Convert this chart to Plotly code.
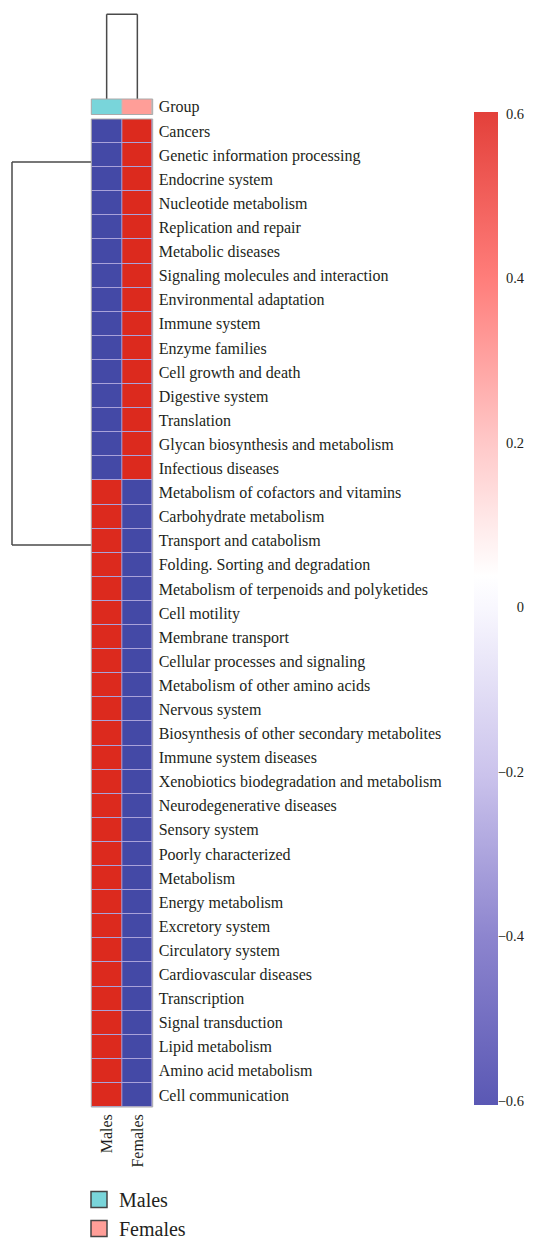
import plotly.graph_objects as go

# page body has an 8px default margin; the figure is offset by it
PAGE_W, PAGE_H = 533, 1239
OFF = 8
FW, FH = PAGE_W - 2 * OFF, PAGE_H - OFF

pathways = [
    "Cancers", "Genetic information processing", "Endocrine system", "Nucleotide metabolism",
    "Replication and repair", "Metabolic diseases", "Signaling molecules and interaction",
    "Environmental adaptation", "Immune system", "Enzyme families", "Cell growth and death",
    "Digestive system", "Translation", "Glycan biosynthesis and metabolism", "Infectious diseases",
    "Metabolism of cofactors and vitamins", "Carbohydrate metabolism", "Transport and catabolism",
    "Folding. Sorting and degradation", "Metabolism of terpenoids and polyketides", "Cell motility",
    "Membrane transport", "Cellular processes and signaling", "Metabolism of other amino acids",
    "Nervous system", "Biosynthesis of other secondary metabolites", "Immune system diseases",
    "Xenobiotics biodegradation and metabolism", "Neurodegenerative diseases", "Sensory system",
    "Poorly characterized", "Metabolism", "Energy metabolism", "Excretory system",
    "Circulatory system", "Cardiovascular diseases", "Transcription", "Signal transduction",
    "Lipid metabolism", "Amino acid metabolism", "Cell communication",
]

groups = ["Males", "Females"]

males = [-0.71, -0.71, -0.71, -0.71, -0.71, -0.71, -0.71, -0.71, -0.71, -0.71,
         -0.71, -0.71, -0.71, -0.71, -0.71,
         0.71, 0.71, 0.71, 0.71, 0.71, 0.71, 0.71, 0.71, 0.71, 0.71,
         0.71, 0.71, 0.71, 0.71, 0.71, 0.71, 0.71, 0.71, 0.71, 0.71,
         0.71, 0.71, 0.71, 0.71, 0.71, 0.71]
females = [0.71, 0.71, 0.71, 0.71, 0.71, 0.71, 0.71, 0.71, 0.71, 0.71,
           0.71, 0.71, 0.71, 0.71, 0.71,
           -0.71, -0.71, -0.71, -0.71, -0.71, -0.71, -0.71, -0.71, -0.71, -0.71,
           -0.71, -0.71, -0.71, -0.71, -0.71, -0.71, -0.71, -0.71, -0.71, -0.71,
           -0.71, -0.71, -0.71, -0.71, -0.71, -0.71]

group_colors = ["#79D5DA", "#FF9E98"]
colorbar_tickvals = [-0.6, -0.4, -0.2, 0, 0.2, 0.4, 0.6]
colorbar_ticktext = ["\u22120.6", "\u22120.4", "\u22120.2", "0", "0.2", "0.4", "0.6"]

# dendrogram join heights (in row units)
row_dendro_top = 1.28
row_dendro_bottom = 17.18

n = len(pathways)
rows = list(range(n))
z = [[males[i], females[i]] for i in range(n)]


def px_x(p):
    return (p - OFF) / FW


def px_y(p):
    return 1 - (p - OFF) / FH


FONT = "Liberation Serif"
TXT = "#231F20"
heat_cells = [[0, "#4449A6"], [0.5, "#4449A6"], [0.5, "#DC2A1E"], [1, "#DC2A1E"]]
bar_scale = [[0, "#5A58B4"], [0.167, "#8C84CE"], [0.333, "#CBC3EC"], [0.5, "#F8F7FE"],
             [0.533, "#FFFFFF"], [0.667, "#FFC8C8"], [0.833, "#FF7D7A"], [1, "#E3403A"]]

fig = go.Figure()
fig.add_trace(go.Heatmap(
    z=z, x=[0, 1], y=rows, zmin=-0.71, zmax=0.71, colorscale=heat_cells,
    showscale=False, xgap=1, ygap=1, hoverinfo="skip", xaxis="x", yaxis="y",
))
fig.add_trace(go.Heatmap(
    z=[[0, 1]], x=[0, 1], y=[0], zmin=0, zmax=1,
    colorscale=[[0, group_colors[0]], [0.5, group_colors[0]], [0.5, group_colors[1]], [1, group_colors[1]]],
    showscale=False, xgap=1, hoverinfo="skip", xaxis="x", yaxis="y2",
))
# colorbar carrier (its labels come from yaxis3, right-aligned like the reference)
fig.add_trace(go.Scatter(
    x=[None], y=[None], mode="markers", showlegend=False, hoverinfo="skip",
    marker=dict(color=[-0.6, 0.6], cmin=-0.6, cmax=0.6, colorscale=bar_scale, showscale=True,
                colorbar=dict(
                    x=px_x(474), xanchor="left", y=px_y(1105), yanchor="bottom",
                    len=(1105 - 112) / FH, lenmode="fraction", thickness=24,
                    xpad=0, ypad=0,
                    outlinewidth=0, ticks="", showticklabels=False,
                )),
    xaxis="x2", yaxis="y3",
))
# legend entries
for g, c in zip(groups, group_colors):
    fig.add_trace(go.Scatter(
        x=[None], y=[None], mode="markers", name=g,
        marker=dict(symbol="square", size=18, color=c, line=dict(color="#444444", width=1.5)),
        xaxis="x", yaxis="y",
    ))

fig.update_layout(
    width=FW, height=FH, margin=dict(l=0, r=0, t=0, b=0, autoexpand=False),
    font=dict(family=FONT, color=TXT),
    paper_bgcolor="white", plot_bgcolor="rgba(0,0,0,0)",
    xaxis=dict(domain=[px_x(91.3), px_x(152.7)], range=[-0.5, 1.5], tickvals=[0, 1], ticktext=groups,
               tickangle=-90, showgrid=False, zeroline=False, ticks="", showline=False,
               ticklabelstandoff=3,
               tickfont=dict(family=FONT, size=16, color=TXT), anchor="y"),
    yaxis=dict(domain=[px_y(1107), px_y(119)], range=[n - 0.5, -0.5], tickvals=rows, ticktext=pathways,
               side="right", showgrid=False, zeroline=False, ticks="", ticklabelstandoff=5,
               tickfont=dict(family=FONT, size=16, color=TXT), anchor="x"),
    yaxis2=dict(domain=[px_y(114.5), px_y(99)], range=[-0.5, 0.5], tickvals=[0], ticktext=["Group"],
                side="right", showgrid=False, zeroline=False, ticks="", ticklabelstandoff=5,
                tickfont=dict(family=FONT, size=16, color=TXT), anchor="x"),
    xaxis2=dict(domain=[px_x(474), px_x(498)], visible=False, anchor="y3", range=[0, 1]),
    yaxis3=dict(domain=[px_y(1100.5), px_y(113.5)], range=[-0.6, 0.6],
                tickvals=colorbar_tickvals, ticktext=colorbar_ticktext,
                anchor="free", position=px_x(524), side="left",
                showgrid=False, zeroline=False, showline=False, ticks="", ticklabelstandoff=0,
                tickfont=dict(family=FONT, size=14.5, color=TXT)),
    legend=dict(x=px_x(79), y=px_y(1180), xanchor="left", yanchor="top",
                font=dict(family=FONT, size=20, color=TXT), tracegroupgap=0,
                itemsizing="trace", bgcolor="rgba(0,0,0,0)"),
    showlegend=True,
)

line = dict(color="#4A4A4A", width=1.5)
shapes = [
    # lavender separators between cells
    dict(type="rect", xref="x domain", yref="y domain", x0=0, x1=1, y0=0, y1=1,
         fillcolor="#A9A2DA", line=dict(width=0), layer="below"),
    dict(type="rect", xref="x domain", yref="y2 domain", x0=0, x1=1, y0=0, y1=1,
         fillcolor="#BBBBBB", line=dict(width=0), layer="below"),
    # top dendrogram
    dict(type="line", xref="x", yref="paper", x0=0, x1=0, y0=px_y(99), y1=px_y(14.3), line=line),
    dict(type="line", xref="x", yref="paper", x0=1, x1=1, y0=px_y(99), y1=px_y(14.3), line=line),
    dict(type="line", xref="x", yref="paper", x0=0, x1=1, y0=px_y(14.3), y1=px_y(14.3), line=line),
    # left dendrogram
    dict(type="line", xref="paper", yref="y", x0=px_x(12), x1=px_x(91.3), y0=row_dendro_top, y1=row_dendro_top, line=line),
    dict(type="line", xref="paper", yref="y", x0=px_x(12), x1=px_x(91.3), y0=row_dendro_bottom, y1=row_dendro_bottom, line=line),
    dict(type="line", xref="paper", yref="y", x0=px_x(12), x1=px_x(12), y0=row_dendro_top, y1=row_dendro_bottom, line=line),
    # outlines
    dict(type="rect", xref="x domain", yref="y domain", x0=0, x1=1, y0=0, y1=1, line=dict(color="#AAAAAA", width=1)),
    dict(type="rect", xref="x domain", yref="y2 domain", x0=0, x1=1, y0=0, y1=1, line=dict(color="#AAAAAA", width=1)),
]
fig.update_layout(shapes=shapes)

fig.write_html("out.html")
